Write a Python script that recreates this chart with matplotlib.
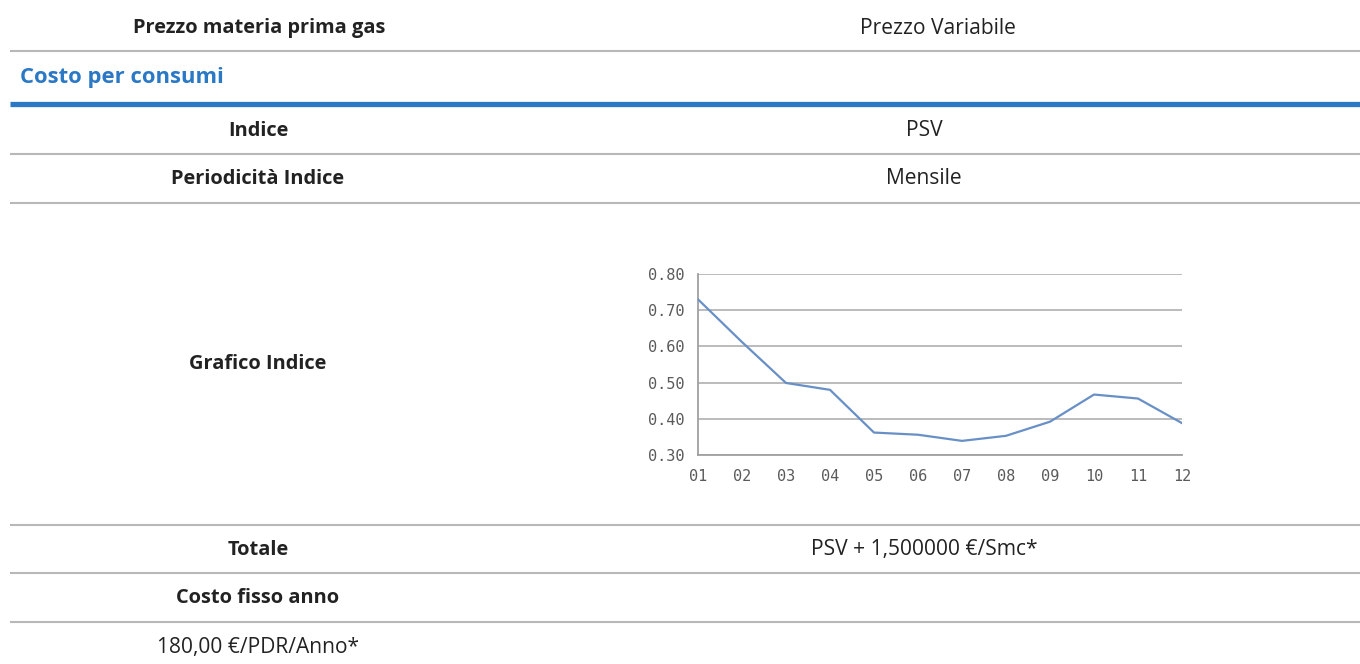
import matplotlib
matplotlib.use("Agg")
import matplotlib.pyplot as plt

# table rows: left label, right value
row_labels = ["Indice", "Periodicità Indice", "Grafico Indice", "Totale", "Costo fisso anno"]
row_values = ["PSV", "Mensile", "", "PSV + 1,500000 €/Smc*", ""]

# index chart
months = ["01", "02", "03", "04", "05", "06", "07", "08", "09", "10", "11", "12"]
psv = [0.730, 0.612, 0.499, 0.480, 0.362, 0.356, 0.339, 0.353, 0.392, 0.467, 0.456, 0.388]
yticks = [0.30, 0.40, 0.50, 0.60, 0.70, 0.80]

W, H = 1360, 664
TXT = "#222222"
BLUE = "#2b78c5"
LINE = "#b8b8b8"
FONT = ["Open Sans", "DejaVu Sans"]
FS_B = 14.4   # bold labels
FS_R = 15.1   # regular values

fig = plt.figure(figsize=(W / 100, H / 100), dpi=100)
bg = fig.add_axes([0, 0, 1, 1])
bg.set_xlim(0, W)
bg.set_ylim(H, 0)
bg.axis("off")


def hline(y, color=LINE, lw=1.5):
    bg.plot([10, W], [y, y], color=color, lw=lw, solid_capstyle="butt")


# header row
bg.text(259, 28, "Prezzo materia prima gas", ha="center", va="center",
        fontsize=FS_B, fontweight="bold", color=TXT, family=FONT)
bg.text(938, 28, "Prezzo Variabile", ha="center", va="center",
        fontsize=FS_R, color=TXT, family=FONT)
hline(51)

bg.text(20, 77, "Costo per consumi", ha="left", va="center",
        fontsize=15.8, fontweight="bold", color=BLUE, family=FONT)
hline(104, color=BLUE, lw=3.8)

row_y = [131, 179, 364, 550, 598]
for lab, val, y in zip(row_labels, row_values, row_y):
    bg.text(258, y, lab, ha="center", va="center", fontsize=FS_B,
            fontweight="bold", color=TXT, family=FONT)
    if val:
        bg.text(924, y, val, ha="center", va="center", fontsize=FS_R,
                color=TXT, family=FONT)

for y in [154, 203, 525, 573, 622]:
    hline(y)

bg.text(258, 647, "180,00 €/PDR/Anno*", ha="center", va="center",
        fontsize=FS_R, color=TXT, family=FONT)

# chart
ax = fig.add_axes([698 / W, 1 - 455 / H, 484 / W, 181 / H])
x = list(range(len(months)))
ax.plot(x, psv, color="#6890c6", lw=1.6, zorder=3)
ax.set_xlim(0, len(months) - 1)
ax.set_ylim(0.30, 0.80)
ax.set_xticks(x)
ax.set_xticklabels(months)
ax.set_yticks(yticks)
ax.set_yticklabels([f"{v:.2f}" for v in yticks])
ax.grid(axis="y", color="#b5b5b5", lw=1.3)
ax.set_axisbelow(True)
for s in ["top", "right"]:
    ax.spines[s].set_visible(False)
for s in ["left", "bottom"]:
    ax.spines[s].set_color("#a0a0a0")
    ax.spines[s].set_linewidth(1.3)
ax.tick_params(length=0, labelsize=11, labelcolor="#5a5a5a")
for lbl in ax.get_xticklabels() + ax.get_yticklabels():
    lbl.set_family("DejaVu Sans Mono")
ax.tick_params(axis="y", pad=10)
ax.tick_params(axis="x", pad=10)

fig.savefig("out.png", dpi=100)
